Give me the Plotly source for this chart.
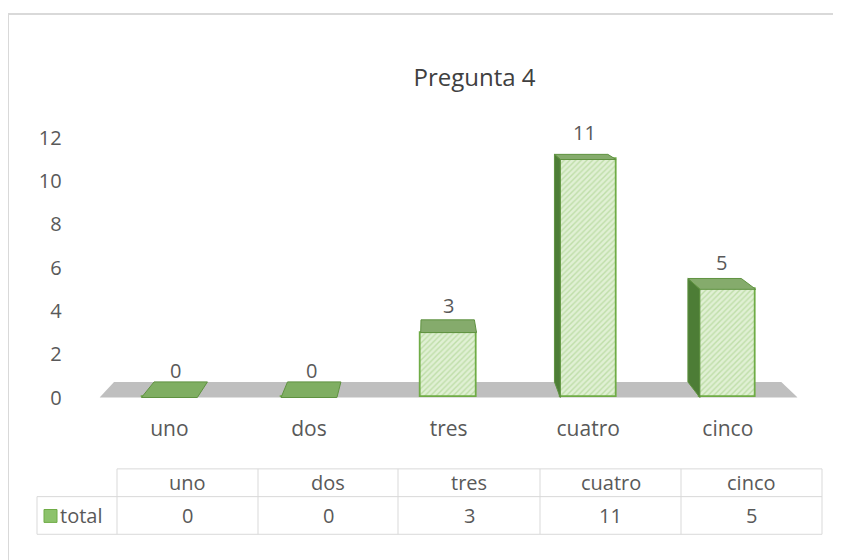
import plotly.graph_objects as go

categories = ["uno", "dos", "tres", "cuatro", "cinco"]
totals = [0, 0, 3, 11, 5]
series_name = "total"
y_ticks = [0, 2, 4, 6, 8, 10, 12]
chart_title = "Pregunta 4"

W, H = 841, 560
OFF = 8  # the page body margin pushes the figure 8px right/down
FONT = "'Open Sans', Lato, sans-serif"
TXT = "#595959"
GRID = "#d9d9d9"

# fake excel 3D look: back corners get pulled toward a vanishing point (data units)
VP_X, VP_Y, DEPTH = 1.85, 16.4, 0.044
BAR_W = 0.4
X_RANGE = [-0.5, len(categories) - 0.5]


def px(x):
    return (x - OFF) / W


def py(y):
    return 1 - (y - OFF) / H


def back(x, y):
    return x + DEPTH * (VP_X - x), y + DEPTH * (VP_Y - y)


def face(pts, color):
    xs = [p[0] for p in pts] + [pts[0][0]]
    ys = [p[1] for p in pts] + [pts[0][1]]
    return go.Scatter(x=xs, y=ys, mode="lines", fill="toself", fillcolor=color,
                      line=dict(color="#5f9240", width=1), hoverinfo="skip", showlegend=False)


idx = list(range(len(categories)))
fig = go.Figure()

# front faces
fig.add_trace(go.Bar(
    x=idx, y=totals, width=BAR_W, name=series_name, showlegend=False,
    marker=dict(color="#d8ecc8", line=dict(color="#6fac46", width=1.8),
                pattern=dict(shape="/", fgcolor="#9dcc7d", bgcolor="#e0f0d4", size=4, solidity=0.35)),
))

# top + side faces
for i, v in zip(idx, totals):
    L, R = i - BAR_W / 2, i + BAR_W / 2
    top = [(L, v), (R, v), back(R, v), back(L, v)]
    fig.add_trace(face(top, "#7fae62" if v == 0 else "#85ab6c"))
    if v > 0 and VP_X < L:
        fig.add_trace(face([(L, 0), (L, v), back(L, v), back(L, 0)], "#4d7d36"))
    if v > 0 and VP_X > R:
        fig.add_trace(face([(R, 0), (R, v), back(R, v), back(R, 0)], "#4d7d36"))

# value labels above each box
annotations = []
for i, v in zip(idx, totals):
    bx, _ = back(i, v)
    annotations.append(dict(x=(i + bx) / 2, y=v, text=str(v), showarrow=False, yanchor="middle",
                            yshift=27, font=dict(size=20, color=TXT, family=FONT)))

# floor
fx0, fx1 = X_RANGE
b0, b1 = back(fx0, 0), back(fx1, 0)
shapes = [dict(type="path", xref="x", yref="y", layer="below",
               path=f"M {fx0},0 L {fx1},0 L {b1[0]},{b1[1]} L {b0[0]},{b0[1]} Z",
               fillcolor="#bfbfbf", line=dict(width=0))]

# outer chart frame (only top and left are in the picture)
shapes.append(dict(type="line", xref="paper", yref="paper", x0=0, x1=1, y0=py(11), y1=py(11),
                   line=dict(color=GRID, width=2)))
shapes.append(dict(type="line", xref="paper", yref="paper", x0=0, x1=0, y0=py(11), y1=0,
                   line=dict(color=GRID, width=2)))

# data table under the chart
cols = [117, 258, 398, 540, 681, 822]
t_top, t_mid, t_bot = 470, 498, 536
left_edge = 37
for c in cols:
    shapes.append(dict(type="line", xref="paper", yref="paper", x0=px(c), x1=px(c), y0=py(t_top), y1=py(t_bot),
                       line=dict(color=GRID, width=1)))
shapes.append(dict(type="line", xref="paper", yref="paper", x0=px(left_edge), x1=px(left_edge),
                   y0=py(t_mid), y1=py(t_bot), line=dict(color=GRID, width=1)))
shapes.append(dict(type="line", xref="paper", yref="paper", x0=px(cols[0]), x1=px(cols[-1]),
                   y0=py(t_top), y1=py(t_top), line=dict(color=GRID, width=1)))
for r in (t_mid, t_bot):
    shapes.append(dict(type="line", xref="paper", yref="paper", x0=px(left_edge), x1=px(cols[-1]),
                       y0=py(r), y1=py(r), line=dict(color=GRID, width=1)))
shapes.append(dict(type="rect", xref="paper", yref="paper", x0=px(44), x1=px(57), y0=py(524), y1=py(511),
                   fillcolor="#8cc26b", line=dict(color="#6fac46", width=1)))

cell_font = dict(size=20, color=TXT, family=FONT)
for k, (cat, v) in enumerate(zip(categories, totals)):
    cx = (cols[k] + cols[k + 1]) / 2
    annotations.append(dict(xref="paper", yref="paper", x=px(cx), y=py((t_top + t_mid) / 2), text=cat,
                            xanchor="center", yanchor="middle", showarrow=False, font=cell_font))
    annotations.append(dict(xref="paper", yref="paper", x=px(cx), y=py((t_mid + t_bot) / 2), text=str(v),
                            xanchor="center", yanchor="middle", showarrow=False, font=cell_font))
annotations.append(dict(xref="paper", yref="paper", x=px(58), y=py((t_mid + t_bot) / 2), text=series_name,
                        xanchor="left", yanchor="middle", showarrow=False, font=cell_font))

fig.update_layout(
    width=W, height=H,
    margin=dict(l=0, r=0, t=0, b=0),
    plot_bgcolor="white", paper_bgcolor="white",
    font=dict(family=FONT, color=TXT, size=20),
    title=dict(text=chart_title, x=px(474.5), y=py(78), xanchor="center", yanchor="middle",
               font=dict(size=24, color="#404040", family=FONT)),
    xaxis=dict(range=X_RANGE, domain=[px(99.6), px(797.6)], tickvals=idx, ticktext=categories,
               showgrid=False, zeroline=False, showline=False, ticks="", ticklabelstandoff=6,
               tickfont=dict(size=21, color=TXT)),
    yaxis=dict(range=[-0.5, 12.5], domain=[py(408.9), py(125.1)], tickvals=y_ticks,
               showgrid=False, zeroline=False, showline=False, ticks="", ticklabelstandoff=37,
               tickfont=dict(size=20, color=TXT)),
    shapes=shapes,
    annotations=annotations,
    bargap=0,
)

fig.write_html("out.html")
